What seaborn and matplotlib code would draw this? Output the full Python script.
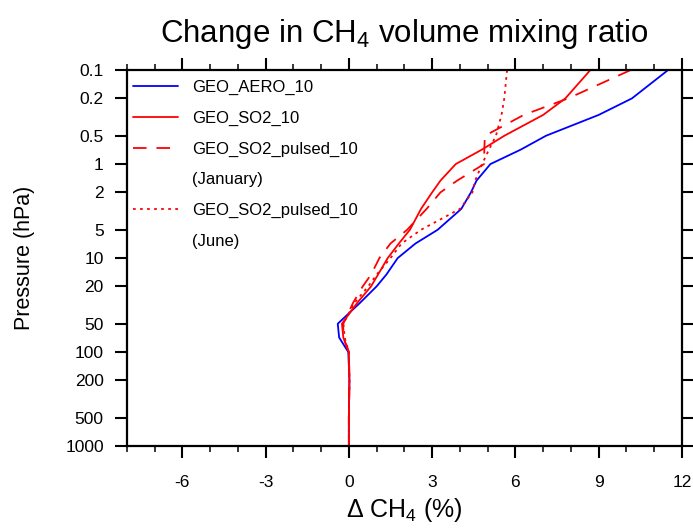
import numpy as np
import pandas as pd
import matplotlib
matplotlib.use("Agg")
import matplotlib.pyplot as plt
from matplotlib.lines import Line2D
import seaborn as sns

# pressure levels (hPa) and change in CH4 (%) for each run
levels = [0.1, 0.2, 0.3, 0.5, 0.7, 1, 1.5, 2, 3, 5, 7, 10, 15, 20, 30,
          50, 70, 100, 200, 500, 1000]
geo_aero = [11.5, 10.2, 9.0, 7.1, 6.2, 5.1, 4.6, 4.4, 4.05, 3.2, 2.4, 1.76,
            1.35, 1.0, 0.4, -0.4, -0.35, -0.02, 0.02, 0.0, 0.0]
geo_so2 = [8.7, 7.8, 7.0, 5.6, 4.8, 3.85, 3.3, 3.0, 2.6, 2.2, 1.8, 1.4,
           1.05, 0.8, 0.3, -0.25, -0.2, 0.0, 0.02, 0.0, 0.0]
geo_so2_jan = [10.15, 7.9, 6.3, 4.9, 4.88, 4.87, 3.9, 3.3, 2.8, 2.1, 1.5, 1.1,
               0.8, 0.5, 0.15, -0.2, -0.2, 0.0, 0.02, 0.0, 0.0]
geo_so2_jun = [5.7, 5.6, 5.5, 5.3, 5.05, 4.8, 4.55, 4.45, 4.0, 2.6, 1.9, 1.5,
               1.0, 0.7, 0.2, -0.2, -0.15, 0.0, 0.02, 0.0, 0.0]

runs = ["GEO_AERO_10", "GEO_SO2_10", "GEO_SO2_pulsed_10 (January)",
        "GEO_SO2_pulsed_10 (June)"]
series = [geo_aero, geo_so2, geo_so2_jan, geo_so2_jun]

ytick_vals = [0.1, 0.2, 0.5, 1, 2, 5, 10, 20, 50, 100, 200, 500, 1000]
ytick_labels = ["0.1", "0.2", "0.5", "1", "2", "5", "10", "20", "50",
                "100", "200", "500", "1000"]

rows = {"run": [], "pressure": [], "change": []}
for run, vals in zip(runs, series):
    for p, v in zip(levels, vals):
        rows["run"].append(run)
        rows["pressure"].append(p)
        rows["change"].append(v)
df = pd.DataFrame(rows)

sns.set_style("ticks")
plt.rcParams["font.family"] = ["Liberation Sans", "DejaVu Sans"]
plt.rcParams["mathtext.fontset"] = "custom"
plt.rcParams["mathtext.rm"] = "Liberation Sans"
plt.rcParams["mathtext.it"] = "Liberation Sans"
plt.rcParams["axes.unicode_minus"] = False
plt.rcParams["text.color"] = "black"
plt.rcParams["axes.labelcolor"] = "black"
plt.rcParams["xtick.color"] = "black"
plt.rcParams["ytick.color"] = "black"
plt.rcParams["axes.edgecolor"] = "black"

lw = 1.3
colors = {runs[0]: "#0000ff", runs[1]: "#ff0000", runs[2]: "#ff0000", runs[3]: "#ff0000"}
dashes = {runs[0]: "", runs[1]: "", runs[2]: (7.5, 5.5), runs[3]: (1.5, 2.4)}

fig = plt.figure(figsize=(6.93, 5.31), dpi=100)
ax = fig.add_axes([0.183, 0.160, 0.801, 0.708])

sns.lineplot(data=df, x="change", y="pressure", hue="run", style="run",
             palette=colors, dashes=dashes, sort=False, estimator=None,
             linewidth=lw, legend=False, ax=ax)

ax.set_yscale("log")
ax.set_ylim(1000, 0.1)
ax.set_yticks(ytick_vals)
ax.set_yticklabels(ytick_labels)
ax.yaxis.set_minor_locator(matplotlib.ticker.NullLocator())
ax.set_xlim(-8, 12)
ax.set_xticks([-6, -3, 0, 3, 6, 9, 12])
ax.set_xticks(np.arange(-8, 13, 1), minor=True)

ax.tick_params(which="major", direction="out", length=8.6, width=1.5,
               labelsize=12.5, top=True, right=True)
ax.tick_params(axis="x", which="major", pad=12)
ax.tick_params(axis="y", which="major", pad=8)
ax.tick_params(which="minor", direction="out", length=4.3, width=1.1,
               top=True, right=True)
for s in ax.spines.values():
    s.set_linewidth(1.6)
    s.set_visible(True)

ax.set_xlabel("\u0394 CH$_4$ (%)", fontsize=18, va="top")
ax.xaxis.set_label_coords(0.5, -0.134)
ax.set_ylabel("Pressure (hPa)", fontsize=15.5)
ax.yaxis.set_label_coords(-0.166, 0.5)
ax.set_title("Change in CH$_4$ volume mixing ratio", fontsize=22.5, pad=20)

handles = [
    Line2D([], [], color="#0000ff", lw=lw),
    Line2D([], [], color="#ff0000", lw=lw),
    Line2D([], [], color="#ff0000", lw=lw, dashes=(7.5, 5.5)),
    Line2D([], [], color="none"),
    Line2D([], [], color="#ff0000", lw=lw, dashes=(1.5, 2.4)),
    Line2D([], [], color="none"),
]
labels = ["GEO_AERO_10", "GEO_SO2_10", "GEO_SO2_pulsed_10", "(January)",
          "GEO_SO2_pulsed_10", "(June)"]
ax.legend(handles, labels, loc="upper left", bbox_to_anchor=(-0.006, 1.0),
          frameon=False, fontsize=12, handlelength=2.7, handletextpad=0.84,
          labelspacing=0.95, borderaxespad=0.16)

fig.savefig("out.png", dpi=100)
